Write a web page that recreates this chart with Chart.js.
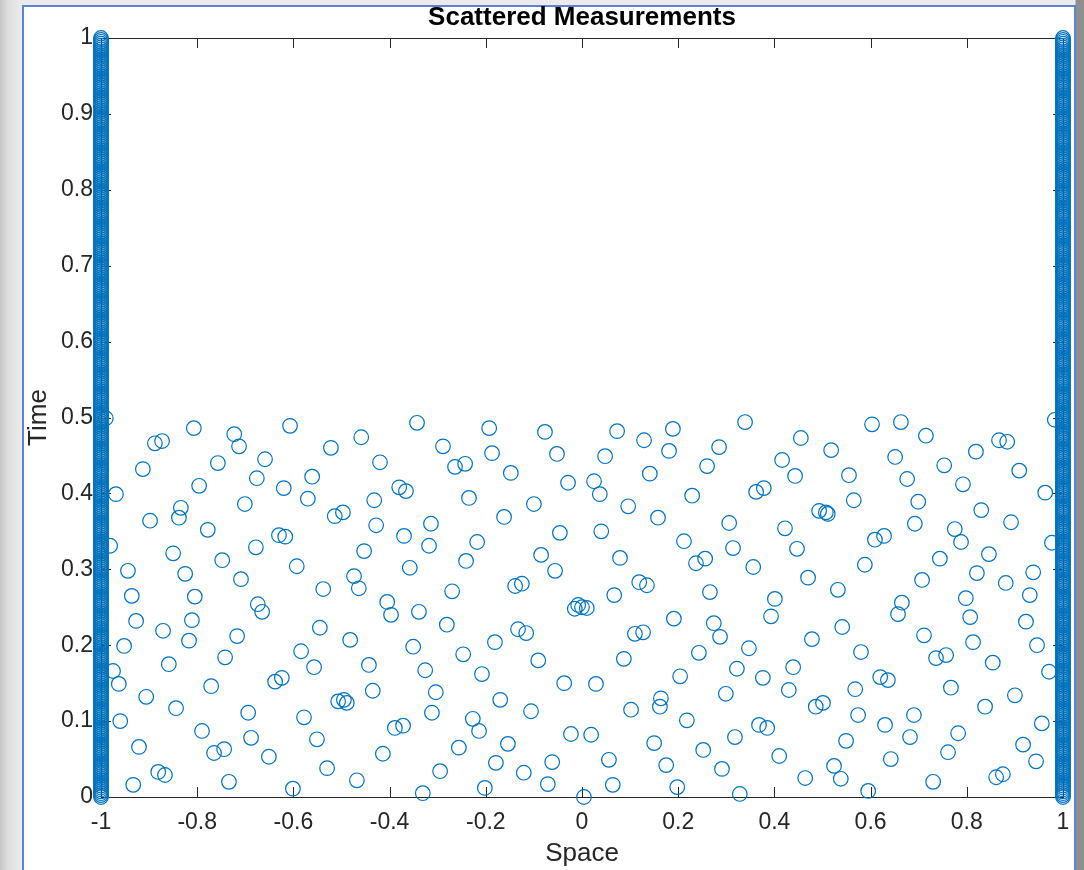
<!DOCTYPE html>
<html>
<head>
<meta charset="utf-8">
<title>Scattered Measurements</title>
<script src="https://cdn.jsdelivr.net/npm/chart.js@4.4.1/dist/chart.umd.min.js"></script>
<style>
  html, body { margin: 0; padding: 0; width: 1084px; height: 870px; overflow: hidden; }
  body {
    position: relative;
    background: linear-gradient(to right, #c6c6c6 0px, #dedede 8px, #ebebeb 21px, #ebebeb 1075px, #8f8f8f 1076px, #8f8f8f 1084px);
  }
  #figure {
    position: absolute; left: 22px; top: 5px; width: 1050px; height: 900px;
    background: #fff; border: 2px solid #5a82d6; border-bottom: none;
  }
  #chart { position: absolute; left: 0; top: 0; }
</style>
</head>
<body>
<div id="figure"></div>
<canvas id="chart" width="1084" height="870"></canvas>
<script>
  // Boundary samples: same times on both walls (x = -1 and x = 1)
  const edgeSpaces = [-1, 1];
  const edgeTimes = [
    0, 0.0025, 0.005, 0.0075, 0.01, 0.0125, 0.015, 0.0175, 0.02, 0.0225, 0.025, 0.0275, 0.03, 0.0325, 0.035, 0.0375, 0.04, 0.0425, 0.045, 0.0475,
    0.05, 0.0525, 0.055, 0.0575, 0.06, 0.0625, 0.065, 0.0675, 0.07, 0.0725, 0.075, 0.0775, 0.08, 0.0825, 0.085, 0.0875, 0.09, 0.0925, 0.095, 0.0975,
    0.1, 0.1025, 0.105, 0.1075, 0.11, 0.1125, 0.115, 0.1175, 0.12, 0.1225, 0.125, 0.1275, 0.13, 0.1325, 0.135, 0.1375, 0.14, 0.1425, 0.145, 0.1475,
    0.15, 0.1525, 0.155, 0.1575, 0.16, 0.1625, 0.165, 0.1675, 0.17, 0.1725, 0.175, 0.1775, 0.18, 0.1825, 0.185, 0.1875, 0.19, 0.1925, 0.195, 0.1975,
    0.2, 0.2025, 0.205, 0.2075, 0.21, 0.2125, 0.215, 0.2175, 0.22, 0.2225, 0.225, 0.2275, 0.23, 0.2325, 0.235, 0.2375, 0.24, 0.2425, 0.245, 0.2475,
    0.25, 0.2525, 0.255, 0.2575, 0.26, 0.2625, 0.265, 0.2675, 0.27, 0.2725, 0.275, 0.2775, 0.28, 0.2825, 0.285, 0.2875, 0.29, 0.2925, 0.295, 0.2975,
    0.3, 0.3025, 0.305, 0.3075, 0.31, 0.3125, 0.315, 0.3175, 0.32, 0.3225, 0.325, 0.3275, 0.33, 0.3325, 0.335, 0.3375, 0.34, 0.3425, 0.345, 0.3475,
    0.35, 0.3525, 0.355, 0.3575, 0.36, 0.3625, 0.365, 0.3675, 0.37, 0.3725, 0.375, 0.3775, 0.38, 0.3825, 0.385, 0.3875, 0.39, 0.3925, 0.395, 0.3975,
    0.4, 0.4025, 0.405, 0.4075, 0.41, 0.4125, 0.415, 0.4175, 0.42, 0.4225, 0.425, 0.4275, 0.43, 0.4325, 0.435, 0.4375, 0.44, 0.4425, 0.445, 0.4475,
    0.45, 0.4525, 0.455, 0.4575, 0.46, 0.4625, 0.465, 0.4675, 0.47, 0.4725, 0.475, 0.4775, 0.48, 0.4825, 0.485, 0.4875, 0.49, 0.4925, 0.495, 0.4975,
    0.5, 0.5025, 0.505, 0.5075, 0.51, 0.5125, 0.515, 0.5175, 0.52, 0.5225, 0.525, 0.5275, 0.53, 0.5325, 0.535, 0.5375, 0.54, 0.5425, 0.545, 0.5475,
    0.55, 0.5525, 0.555, 0.5575, 0.56, 0.5625, 0.565, 0.5675, 0.57, 0.5725, 0.575, 0.5775, 0.58, 0.5825, 0.585, 0.5875, 0.59, 0.5925, 0.595, 0.5975,
    0.6, 0.6025, 0.605, 0.6075, 0.61, 0.6125, 0.615, 0.6175, 0.62, 0.6225, 0.625, 0.6275, 0.63, 0.6325, 0.635, 0.6375, 0.64, 0.6425, 0.645, 0.6475,
    0.65, 0.6525, 0.655, 0.6575, 0.66, 0.6625, 0.665, 0.6675, 0.67, 0.6725, 0.675, 0.6775, 0.68, 0.6825, 0.685, 0.6875, 0.69, 0.6925, 0.695, 0.6975,
    0.7, 0.7025, 0.705, 0.7075, 0.71, 0.7125, 0.715, 0.7175, 0.72, 0.7225, 0.725, 0.7275, 0.73, 0.7325, 0.735, 0.7375, 0.74, 0.7425, 0.745, 0.7475,
    0.75, 0.7525, 0.755, 0.7575, 0.76, 0.7625, 0.765, 0.7675, 0.77, 0.7725, 0.775, 0.7775, 0.78, 0.7825, 0.785, 0.7875, 0.79, 0.7925, 0.795, 0.7975,
    0.8, 0.8025, 0.805, 0.8075, 0.81, 0.8125, 0.815, 0.8175, 0.82, 0.8225, 0.825, 0.8275, 0.83, 0.8325, 0.835, 0.8375, 0.84, 0.8425, 0.845, 0.8475,
    0.85, 0.8525, 0.855, 0.8575, 0.86, 0.8625, 0.865, 0.8675, 0.87, 0.8725, 0.875, 0.8775, 0.88, 0.8825, 0.885, 0.8875, 0.89, 0.8925, 0.895, 0.8975,
    0.9, 0.9025, 0.905, 0.9075, 0.91, 0.9125, 0.915, 0.9175, 0.92, 0.9225, 0.925, 0.9275, 0.93, 0.9325, 0.935, 0.9375, 0.94, 0.9425, 0.945, 0.9475,
    0.95, 0.9525, 0.955, 0.9575, 0.96, 0.9625, 0.965, 0.9675, 0.97, 0.9725, 0.975, 0.9775, 0.98, 0.9825, 0.985, 0.9875, 0.99, 0.9925, 0.995, 0.9975,
    1
  ];

  // Interior measurements (space, time)
  const spaceX = [
    -0.990, -0.807, -0.888, -0.873, -0.723, -0.713, -0.659, -0.913, -0.757, -0.796,
    -0.676, -0.969, -0.701, -0.834, -0.838, -0.898, -0.778, -0.981, -0.850, -0.678,
    -0.748, -0.944, -0.825, -0.709, -0.936, -0.805, -0.674, -0.665, -0.927, -0.811,
    -0.871, -0.817, -0.717, -0.952, -0.742, -0.859, -0.975, -0.963, -0.771, -0.906,
    -0.844, -0.694, -0.960, -0.790, -0.688, -0.921, -0.765, -0.744, -0.651, -0.881,
    -0.867, -0.933, -0.734,
    -0.607, -0.343, -0.459, -0.522, -0.420, -0.561, -0.620, -0.570, -0.380, -0.366,
    -0.432, -0.514, -0.497, -0.428, -0.314, -0.630, -0.617, -0.370, -0.453, -0.318,
    -0.593, -0.358, -0.474, -0.464, -0.538, -0.405, -0.397, -0.339, -0.545, -0.482,
    -0.351, -0.584, -0.557, -0.443, -0.326, -0.638, -0.624, -0.435, -0.507, -0.495,
    -0.489, -0.578, -0.312, -0.389, -0.372, -0.551, -0.414, -0.530, -0.468, -0.601,
    -0.331,
    -0.193, -0.077, -0.289, -0.187, -0.052, -0.264, -0.243, -0.148, -0.029, 0.025,
    -0.235, -0.100, -0.162, -0.046, -0.218, -0.241, -0.085, -0.056, -0.139, -0.125,
    -0.270, -0.015, -0.008, 0.000, 0.010, -0.281, -0.133, -0.116, -0.181, -0.247,
    -0.091, -0.208, -0.037, 0.029, -0.304, -0.170, -0.227, -0.214, -0.106, -0.023,
    0.019, -0.256, -0.154, -0.179, -0.062, -0.295, -0.121, -0.071, -0.202, 0.004,
    0.073, 0.129, 0.189, 0.181, 0.339, 0.048, 0.285, 0.260, 0.141, 0.037,
    0.229, 0.362, 0.378, 0.096, 0.158, 0.306, 0.040, 0.212, 0.314, 0.079,
    0.237, 0.256, 0.356, 0.119, 0.135, 0.266, 0.067, 0.191, 0.274, 0.287,
    0.110, 0.127, 0.243, 0.347, 0.087, 0.322, 0.204, 0.376, 0.299, 0.164,
    0.162, 0.102, 0.218, 0.368, 0.318, 0.150, 0.252, 0.056, 0.175, 0.291,
    0.064, 0.198, 0.328,
    0.603, 0.663, 0.715, 0.455, 0.518, 0.416, 0.651, 0.443, 0.555, 0.676,
    0.565, 0.699, 0.493, 0.507, 0.511, 0.692, 0.422, 0.609, 0.628, 0.447,
    0.588, 0.470, 0.532, 0.707, 0.401, 0.393, 0.665, 0.657, 0.541, 0.711,
    0.478, 0.580, 0.439, 0.430, 0.568, 0.620, 0.636, 0.486, 0.501, 0.574,
    0.690, 0.385, 0.630, 0.682, 0.549, 0.410, 0.642, 0.524, 0.464, 0.538,
    0.595,
    0.867, 0.884, 0.819, 0.753, 0.909, 0.792, 0.963, 0.983, 0.830, 0.892,
    0.775, 0.788, 0.977, 0.744, 0.846, 0.821, 0.938, 0.881, 0.798, 0.931,
    0.807, 0.923, 0.813, 0.946, 0.736, 0.757, 0.854, 0.971, 0.767, 0.900,
    0.838, 0.956, 0.782, 0.761, 0.917, 0.944, 0.861, 0.875, 0.730
  ];
  const timeY = [
    0.499, 0.486, 0.466, 0.469, 0.478, 0.462, 0.445, 0.432, 0.440, 0.410,
    0.420, 0.399, 0.386, 0.381, 0.368, 0.364, 0.352, 0.331, 0.321, 0.329,
    0.312, 0.298, 0.294, 0.287, 0.265, 0.264, 0.254, 0.244, 0.232, 0.233,
    0.219, 0.206, 0.212, 0.199, 0.184, 0.175, 0.166, 0.149, 0.146, 0.132,
    0.117, 0.111, 0.100, 0.087, 0.078, 0.066, 0.058, 0.063, 0.053, 0.033,
    0.029, 0.016, 0.020,
    0.489, 0.493, 0.474, 0.460, 0.441, 0.422, 0.407, 0.393, 0.408, 0.403,
    0.391, 0.370, 0.375, 0.358, 0.360, 0.345, 0.343, 0.344, 0.324, 0.331,
    0.304, 0.302, 0.291, 0.275, 0.274, 0.257, 0.240, 0.244, 0.223, 0.207,
    0.198, 0.192, 0.171, 0.174, 0.167, 0.152, 0.157, 0.140, 0.126, 0.128,
    0.124, 0.105, 0.111, 0.091, 0.094, 0.076, 0.057, 0.038, 0.022, 0.011,
    0.005,
    0.486, 0.481, 0.462, 0.453, 0.452, 0.435, 0.439, 0.427, 0.414, 0.416,
    0.394, 0.386, 0.369, 0.348, 0.336, 0.311, 0.319, 0.298, 0.278, 0.281,
    0.271, 0.248, 0.253, 0.250, 0.249, 0.227, 0.221, 0.216, 0.204, 0.188,
    0.180, 0.162, 0.150, 0.149, 0.138, 0.128, 0.103, 0.087, 0.113, 0.083,
    0.082, 0.065, 0.070, 0.045, 0.046, 0.034, 0.032, 0.017, 0.012, 0.000,
    0.482, 0.470, 0.485, 0.456, 0.494, 0.449, 0.461, 0.436, 0.426, 0.399,
    0.397, 0.402, 0.407, 0.383, 0.368, 0.361, 0.350, 0.337, 0.328, 0.315,
    0.308, 0.314, 0.303, 0.283, 0.279, 0.270, 0.266, 0.235, 0.229, 0.211,
    0.215, 0.217, 0.190, 0.196, 0.182, 0.169, 0.159, 0.157, 0.136, 0.130,
    0.119, 0.115, 0.101, 0.095, 0.079, 0.071, 0.062, 0.049, 0.042, 0.037,
    0.016, 0.013, 0.004,
    0.491, 0.494, 0.476, 0.473, 0.457, 0.444, 0.448, 0.423, 0.424, 0.419,
    0.391, 0.389, 0.377, 0.375, 0.373, 0.360, 0.354, 0.339, 0.344, 0.327,
    0.306, 0.289, 0.273, 0.286, 0.261, 0.238, 0.256, 0.241, 0.224, 0.213,
    0.208, 0.191, 0.171, 0.141, 0.142, 0.158, 0.154, 0.119, 0.124, 0.108,
    0.108, 0.091, 0.095, 0.079, 0.074, 0.054, 0.050, 0.041, 0.025, 0.024,
    0.008,
    0.470, 0.468, 0.455, 0.437, 0.430, 0.412, 0.401, 0.497, 0.378, 0.362,
    0.353, 0.336, 0.335, 0.314, 0.320, 0.295, 0.296, 0.282, 0.262, 0.266,
    0.237, 0.231, 0.204, 0.200, 0.183, 0.187, 0.177, 0.165, 0.144, 0.134,
    0.119, 0.097, 0.084, 0.059, 0.069, 0.047, 0.026, 0.030, 0.020
  ];

  const xTicks = [-1, -0.8, -0.6, -0.4, -0.2, 0, 0.2, 0.4, 0.6, 0.8, 1];
  const xTickLabels = ['-1', '-0.8', '-0.6', '-0.4', '-0.2', '0', '0.2', '0.4', '0.6', '0.8', '1'];
  const yTicks = [0, 0.1, 0.2, 0.3, 0.4, 0.5, 0.6, 0.7, 0.8, 0.9, 1];
  const yTickLabels = ['0', '0.1', '0.2', '0.3', '0.4', '0.5', '0.6', '0.7', '0.8', '0.9', '1'];
  const chartTitle = 'Scattered Measurements';

  const points = [];
  edgeSpaces.forEach(x => edgeTimes.forEach(t => points.push({ x: x, y: t })));
  spaceX.forEach((x, i) => points.push({ x: x, y: timeY[i] }));

  const axisColor = '#262626';
  const fontFamily = '"Liberation Sans", Arial, Helvetica, sans-serif';
  const tickLen = 10;

  // MATLAB-style box with ticks pointing inward on all four sides
  const axesBox = {
    id: 'axesBox',
    beforeDatasetsDraw(chart) {
      const { ctx, chartArea: a, scales } = chart;
      ctx.save();
      ctx.strokeStyle = axisColor;
      ctx.lineWidth = 1;
      ctx.beginPath();
      scales.x.ticks.forEach(t => {
        const px = Math.round(scales.x.getPixelForValue(t.value)) + 0.5;
        ctx.moveTo(px, a.bottom); ctx.lineTo(px, a.bottom - tickLen);
        ctx.moveTo(px, a.top); ctx.lineTo(px, a.top + tickLen);
      });
      scales.y.ticks.forEach(t => {
        const py = Math.round(scales.y.getPixelForValue(t.value)) + 0.5;
        ctx.moveTo(a.left, py); ctx.lineTo(a.left + tickLen, py);
        ctx.moveTo(a.right, py); ctx.lineTo(a.right - tickLen, py);
      });
      ctx.stroke();
      ctx.strokeRect(Math.round(a.left) + 0.5, Math.round(a.top) + 0.5,
        Math.round(a.right - a.left), Math.round(a.bottom - a.top));
      ctx.restore();
    },
    // title centred over the axes, like MATLAB does
    afterDraw(chart) {
      const { ctx, chartArea: a } = chart;
      ctx.save();
      ctx.fillStyle = '#000';
      ctx.font = 'bold 26px ' + fontFamily;
      ctx.textAlign = 'center';
      ctx.textBaseline = 'middle';
      ctx.fillText(chartTitle, (a.left + a.right) / 2, 18);
      ctx.restore();
    }
  };

  Chart.defaults.font.family = fontFamily;
  Chart.defaults.color = axisColor;

  new Chart(document.getElementById('chart'), {
    type: 'scatter',
    data: {
      datasets: [{
        data: points,
        pointStyle: 'circle',
        pointRadius: 7.3,
        pointBorderWidth: 1.2,
        borderColor: '#0072BD',
        backgroundColor: 'rgba(0,0,0,0)',
        clip: false
      }]
    },
    options: {
      responsive: false,
      animation: false,
      events: [],
      layout: { padding: { top: 38, right: 21, bottom: 0, left: 0 } },
      plugins: {
        legend: { display: false },
        tooltip: { enabled: false },
        title: { display: false }
      },
      scales: {
        x: {
          type: 'linear',
          min: -1, max: 1,
          afterBuildTicks: s => { s.ticks = xTicks.map(v => ({ value: v })); },
          afterFit: s => { s.height = 73; },
          grid: { display: false, drawTicks: false },
          border: { display: false },
          ticks: {
            padding: 12,
            font: { size: 23 },
            color: axisColor,
            maxRotation: 0,
            callback: (v, i) => xTickLabels[i]
          },
          title: {
            display: true,
            text: 'Space',
            color: axisColor,
            font: { size: 26 },
            padding: { top: 0, bottom: 1 }
          }
        },
        y: {
          type: 'linear',
          min: 0, max: 1,
          afterBuildTicks: s => { s.ticks = yTicks.map(v => ({ value: v })); },
          afterFit: s => { s.width = 101; },
          grid: { display: false, drawTicks: false },
          border: { display: false },
          ticks: {
            padding: 8,
            font: { size: 23 },
            color: axisColor,
            callback: (v, i) => yTickLabels[i]
          },
          title: {
            display: true,
            text: 'Time',
            color: axisColor,
            font: { size: 26 },
            padding: { top: 23, bottom: 0 }
          }
        }
      }
    },
    plugins: [axesBox]
  });
</script>
</body>
</html>
